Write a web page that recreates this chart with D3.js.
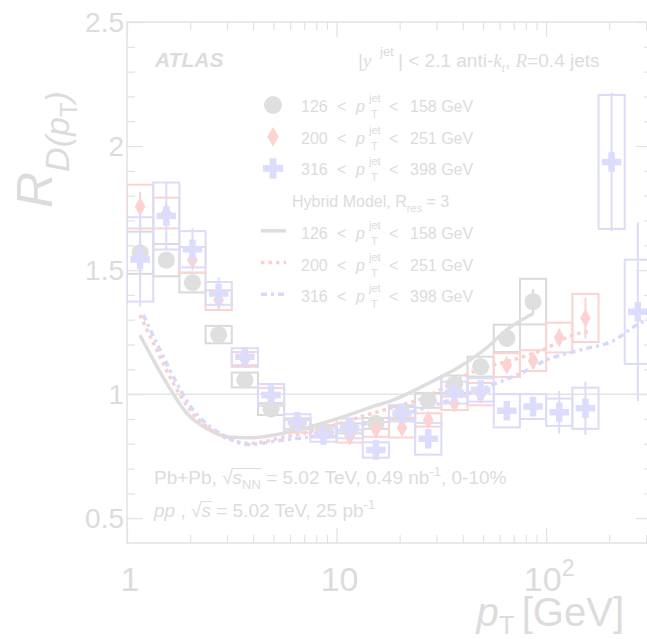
<!DOCTYPE html>
<html>
<head>
<meta charset="utf-8">
<script src="https://cdn.jsdelivr.net/npm/d3@7"></script>
<style>
body { margin: 0; background: #fff; }
svg { display: block; }
text { font-family: "Liberation Sans", Arial, Helvetica, sans-serif; fill: #dcdcdc; }
</style>
</head>
<body>
<script>
// pT bins (GeV), 8 per decade
let pt_bin_edges = [1, 1.334, 1.778, 2.371, 3.162, 4.217, 5.623, 7.499, 10, 13.34, 17.78,
                    23.71, 31.62, 42.17, 56.23, 74.99, 100, 133.4, 177.8, 237.1, 316.2];

// 126 < pT jet < 158 GeV
let gray_r    = [1.57, 1.54, 1.45, 1.24, 1.057, 0.94, 0.88, 0.852, 0.862, 0.882, 0.923, 0.975, 1.04, 1.111, 1.225, 1.373];
let gray_sys  = [0.085, 0.065, 0.04, 0.035, 0.03, 0.024, 0.022, 0.02, 0.02, 0.022, 0.025, 0.03, 0.035, 0.04, 0.055, 0.092];
let gray_stat = [0.13, 0.03, 0.02, 0.012, 0.01, 0.008, 0.008, 0.008, 0.008, 0.008, 0.01, 0.012, 0.015, 0.02, 0.03, 0.05];

// 200 < pT jet < 251 GeV
let pink_r    = [1.756, 1.73, 1.541, 1.379, 1.14, 0.99, 0.87, 0.85, 0.83, 0.858, 0.865, 0.896, 0.963, 1.0, 1.117, 1.135, 1.228, 1.307];
let pink_sys  = [0.088, 0.062, 0.052, 0.04, 0.03, 0.035, 0.025, 0.025, 0.025, 0.03, 0.04, 0.027, 0.027, 0.045, 0.048, 0.042, 0.06, 0.097];
let pink_stat = [0.06, 0.04, 0.03, 0.02, 0.01, 0.01, 0.01, 0.01, 0.01, 0.012, 0.012, 0.015, 0.015, 0.02, 0.025, 0.03, 0.035, 0.082];

// 316 < pT jet < 398 GeV
let blue_r    = [1.543, 1.718, 1.584, 1.406, 1.151, 0.997, 0.889, 0.835, 0.862, 0.775, 0.923, 0.82, 1.006, 1.017, 0.933, 0.95, 0.927, 0.943, 1.936, 1.332];
let blue_sys  = [0.17, 0.135, 0.073, 0.046, 0.034, 0.044, 0.03, 0.027, 0.04, 0.031, 0.033, 0.064, 0.044, 0.047, 0.067, 0.05, 0.055, 0.083, 0.27, 0.21];
let blue_stat = [0.19, 0.135, 0.085, 0.065, 0.02, 0.02, 0.015, 0.015, 0.015, 0.015, 0.015, 0.03, 0.02, 0.03, 0.035, 0.04, 0.086, 0.107, 0.28, 0.36];

// Hybrid model, [pT, R]
let gray_model = [[1.153, 1.238], [1.546, 1.044], [1.927, 0.923], [2.4, 0.862], [3.1, 0.826], [3.86, 0.824],
                  [5.57, 0.842], [7.47, 0.868], [10.4, 0.905], [14.4, 0.946], [18.6, 0.976], [26.9, 1.04],
                  [38.8, 1.111], [52.8, 1.191], [64.9, 1.259], [86.8, 1.325]];
let pink_model = [[1.153, 1.319], [1.386, 1.178], [1.663, 1.044], [1.998, 0.936], [2.4, 0.869], [2.99, 0.822],
                  [3.86, 0.802], [5.57, 0.826], [7.47, 0.849], [10.4, 0.882], [13.9, 0.916], [20.1, 0.955],
                  [27, 0.99], [32.2, 1.024], [43.2, 1.084], [55.7, 1.117], [69.4, 1.138], [100, 1.185],
                  [134, 1.238], [161, 1.252]];
let blue_model = [[1.196, 1.319], [1.437, 1.178], [1.726, 1.044], [2.07, 0.936], [2.49, 0.869], [3.1, 0.822],
                  [3.72, 0.797], [5.57, 0.815], [7.47, 0.828], [10.4, 0.855], [13.9, 0.882], [20.1, 0.915],
                  [27.9, 0.95], [38.8, 0.99], [58, 1.044], [78.1, 1.09], [100.6, 1.138], [145, 1.178],
                  [209, 1.215], [270, 1.279], [320, 1.31]];

// legend labels
let bin_lo = ["126", "200", "316"];
let bin_hi = ["158", "251", "398"];

// ticks
let x_major = [1, 10, 100];
let x_minor = [2, 3, 4, 5, 6, 7, 8, 9, 20, 30, 40, 50, 60, 70, 80, 90, 200, 300];
let y_major = [0.5, 1, 1.5, 2, 2.5];
let y_minor = [0.6, 0.7, 0.8, 0.9, 1.1, 1.2, 1.3, 1.4, 1.6, 1.7, 1.8, 1.9, 2.1, 2.2, 2.3, 2.4];

// colors
let color_frame = "#e2e2e2";
let color_text = "#dcdcdc";

// plot frame
let p_left = 127, p_right = 652, p_top = 22, p_bottom = 543;

let x = d3.scaleLog().domain([1, 320]).range([p_left, p_right]);
let y = d3.scaleLinear().domain([0.4, 2.5]).range([p_bottom, p_top]);

let svg = d3.select("body").append("svg")
            .attr("width", 647)
            .attr("height", 639);

svg.append("defs").append("clipPath").attr("id", "plot")
   .append("rect").attr("x", p_left).attr("y", p_top)
   .attr("width", p_right - p_left).attr("height", p_bottom - p_top);

function tick_group(gen, values, size, tr) {
    let g = svg.append("g").attr("transform", tr)
               .call(gen.tickValues(values).tickSize(size).tickFormat(""));
    g.select(".domain").remove();
    g.selectAll("line").attr("stroke", color_frame).attr("stroke-width", 1.2);
    return g;
}

tick_group(d3.axisBottom(x), x_major, -15, `translate(0,${p_bottom})`);
tick_group(d3.axisBottom(x), x_minor, -8, `translate(0,${p_bottom})`);
tick_group(d3.axisTop(x), x_major, -15, `translate(0,${p_top})`);
tick_group(d3.axisTop(x), x_minor, -8, `translate(0,${p_top})`);
tick_group(d3.axisLeft(y), y_major, -16, `translate(${p_left},0)`);
tick_group(d3.axisLeft(y), y_minor, -8, `translate(${p_left},0)`);
tick_group(d3.axisRight(y), y_major, -16, `translate(${p_right},0)`);
tick_group(d3.axisRight(y), y_minor, -8, `translate(${p_right},0)`);

svg.append("rect")
   .attr("x", p_left).attr("y", p_top)
   .attr("width", p_right - p_left).attr("height", p_bottom - p_top)
   .attr("fill", "none").attr("stroke", color_frame).attr("stroke-width", 1.5);

// y tick labels
svg.selectAll(".ylab").data(y_major).enter().append("text")
   .attr("class", "ylab")
   .attr("x", p_left - 3)
   .attr("y", d => y(d) + 10)
   .attr("text-anchor", "end")
   .style("font-size", "28px")
   .text(d => d);

// x tick labels
svg.selectAll(".xlab").data(x_major.slice(0, 2)).enter().append("text")
   .attr("class", "xlab")
   .attr("x", d => x(d) + 3)
   .attr("y", 591)
   .attr("text-anchor", "middle")
   .style("font-size", "34px")
   .text(d => d);
let hundred = svg.append("text")
   .attr("x", x(100) + 3).attr("y", 591)
   .attr("text-anchor", "middle")
   .style("font-size", "34px");
hundred.append("tspan").text("10");
hundred.append("tspan").attr("dy", -15).style("font-size", "23px").text("2");

// axis titles
let xt = svg.append("text").attr("x", 624).attr("y", 626)
            .attr("text-anchor", "end").style("font-size", "40px");
xt.append("tspan").style("font-style", "italic").text("p");
xt.append("tspan").attr("dy", 8).style("font-size", "26px").text("T");
xt.append("tspan").attr("dy", -8).attr("dx", 7).text("[GeV]");

let yt = svg.append("text").attr("transform", "translate(52,208) rotate(-90)")
            .style("font-size", "50px");
yt.append("tspan").style("font-style", "italic").text("R");
yt.append("tspan").attr("dy", 17).style("font-size", "34px").style("font-style", "italic").text("D(p");
yt.append("tspan").attr("dy", 8).style("font-size", "24px").text("T");
yt.append("tspan").attr("dy", -8).style("font-size", "34px").style("font-style", "italic").text(")");

// unity line
svg.append("line")
   .attr("x1", p_left).attr("x2", p_right)
   .attr("y1", y(1)).attr("y2", y(1))
   .attr("stroke", "#e4e4e4").attr("stroke-width", 1.5);

let series = [
    {r: gray_r, sys: gray_sys, stat: gray_stat, model: gray_model, mark: "#dfdfdf", box: "#dadada",
     line: "#dedede", dash: null, width: 3.5, symbol: d3.symbolCircle, size: 230},
    {r: pink_r, sys: pink_sys, stat: pink_stat, model: pink_model, mark: "#fcd2d2", box: "#fad3d3",
     line: "#fbcfcf", dash: "3.5,4", width: 3.5, symbol: d3.symbolDiamond, size: 100},
    {r: blue_r, sys: blue_sys, stat: blue_stat, model: blue_model, mark: "#dcdcfd", box: "#dcdcf8",
     line: "#d8d8fb", dash: "6,4,3,4", width: 3.5, symbol: d3.symbolCross, size: 210}
];

let plot = svg.append("g").attr("clip-path", "url(#plot)");

function bin_center(k) {
    return Math.sqrt(pt_bin_edges[k] * pt_bin_edges[k + 1]);
}

// systematic boxes
series.forEach(s => {
    plot.append("g").selectAll("rect").data(s.r).enter().append("rect")
        .attr("x", (d, k) => x(pt_bin_edges[k]))
        .attr("width", (d, k) => x(pt_bin_edges[k + 1]) - x(pt_bin_edges[k]))
        .attr("y", (d, k) => y(d + s.sys[k]))
        .attr("height", (d, k) => y(d - s.sys[k]) - y(d + s.sys[k]))
        .attr("fill", "none")
        .attr("stroke", s.box)
        .attr("stroke-width", 2);
});

// model curves
let model_line = d3.line()
                   .x(d => x(d[0]))
                   .y(d => y(d[1]))
                   .curve(d3.curveMonotoneX);
series.forEach(s => {
    plot.append("path")
        .attr("d", model_line(s.model))
        .attr("fill", "none")
        .attr("stroke", s.line)
        .attr("stroke-width", s.width)
        .attr("stroke-dasharray", s.dash);
});

// stat errors and markers
series.forEach(s => {
    let g = plot.append("g");
    g.selectAll("line").data(s.r).enter().append("line")
     .attr("x1", (d, k) => x(bin_center(k)))
     .attr("x2", (d, k) => x(bin_center(k)))
     .attr("y1", (d, k) => y(d - s.stat[k]))
     .attr("y2", (d, k) => y(d + s.stat[k]))
     .attr("stroke", s.box)
     .attr("stroke-width", 2);
    g.selectAll("path").data(s.r).enter().append("path")
     .attr("d", d3.symbol().type(s.symbol).size(s.size))
     .attr("transform", (d, k) => `translate(${x(bin_center(k))},${y(d)})`)
     .attr("fill", s.mark);
});

// labels
svg.append("text").attr("x", 155).attr("y", 67)
   .style("font-size", "21px").style("font-weight", "bold").style("font-style", "italic")
   .text("ATLAS");

let head = svg.append("text").attr("y", 67).style("font-size", "19px");
head.append("tspan").attr("x", 358).text("|");
head.append("tspan").attr("x", 363).style("font-family", "Liberation Serif").style("font-style", "italic").text("y");
head.append("tspan").attr("x", 380).attr("dy", -11).style("font-size", "13px").text("jet");
head.append("tspan").attr("x", 398).attr("dy", 11).text("| < 2.1 anti-");
head.append("tspan").style("font-family", "Liberation Serif").style("font-style", "italic").text("k");
head.append("tspan").attr("dy", 5).style("font-size", "12px").style("font-family", "Liberation Serif").style("font-style", "italic").text("t");
head.append("tspan").attr("dy", -5).text(", ");
head.append("tspan").style("font-family", "Liberation Serif").style("font-style", "italic").text("R");
head.append("tspan").text("=0.4 jets");

function add_bin_label(yb, lo, hi) {
    let g = svg.append("g").style("font-size", "16px");
    g.append("text").attr("x", 301).attr("y", yb).text(lo);
    g.append("text").attr("x", 337).attr("y", yb).text("<");
    g.append("text").attr("x", 356).attr("y", yb).style("font-style", "italic").text("p");
    g.append("text").attr("x", 369).attr("y", yb - 10).style("font-size", "11px").text("jet");
    g.append("text").attr("x", 371).attr("y", yb + 6).style("font-size", "11px").text("T");
    g.append("text").attr("x", 389).attr("y", yb).text("<");
    g.append("text").attr("x", 410).attr("y", yb).text(hi + " GeV");
}

let row_y = d3.range(7).map(i => 112 + i * 31.7);

series.forEach((s, i) => {
    svg.append("path")
       .attr("d", d3.symbol().type(s.symbol).size(s.size * 1.1))
       .attr("transform", `translate(273,${row_y[i] - 7})`)
       .attr("fill", s.mark);
    add_bin_label(row_y[i], bin_lo[i], bin_hi[i]);

    svg.append("line")
       .attr("x1", 261).attr("x2", 286)
       .attr("y1", row_y[i + 4] - 8).attr("y2", row_y[i + 4] - 8)
       .attr("stroke", s.line)
       .attr("stroke-width", s.width)
       .attr("stroke-dasharray", s.dash);
    add_bin_label(row_y[i + 4], bin_lo[i], bin_hi[i]);
});

let hyb = svg.append("text").attr("x", 292).attr("y", row_y[3]).style("font-size", "16px");
hyb.append("tspan").text("Hybrid Model, R");
hyb.append("tspan").attr("dy", 5).style("font-size", "11px").text("res");
hyb.append("tspan").attr("dy", -5).text(" = 3");

// collision system text
function add_overline(t, i0, i1, yb) {
    let n = t.node();
    svg.append("line")
       .attr("x1", n.getEndPositionOfChar(i0).x - 1)
       .attr("x2", n.getEndPositionOfChar(i1).x + 1)
       .attr("y1", yb - 15.5).attr("y2", yb - 15.5)
       .attr("stroke", color_text).attr("stroke-width", 1);
}

let pb = svg.append("text").attr("x", 154).attr("y", 484).style("font-size", "19px");
pb.append("tspan").text("Pb+Pb, ");
pb.append("tspan").text("\u221A");
pb.append("tspan").style("font-style", "italic").text("s");
pb.append("tspan").attr("dy", 5).style("font-size", "13px").text("NN");
pb.append("tspan").attr("dy", -5).text(" = 5.02 TeV, 0.49 nb");
pb.append("tspan").attr("dy", -8).style("font-size", "13px").text("-1");
pb.append("tspan").attr("dy", 8).text(", 0-10%");
add_overline(pb, 7, 10, 484);

let pp = svg.append("text").attr("x", 154).attr("y", 517).style("font-size", "19px");
pp.append("tspan").style("font-style", "italic").text("pp");
pp.append("tspan").text(" , ");
pp.append("tspan").text("\u221A");
pp.append("tspan").style("font-style", "italic").text("s");
pp.append("tspan").text(" = 5.02 TeV, 25 pb");
pp.append("tspan").attr("dy", -8).style("font-size", "13px").text("-1");
add_overline(pp, 5, 6, 517);
</script>
</body>
</html>
